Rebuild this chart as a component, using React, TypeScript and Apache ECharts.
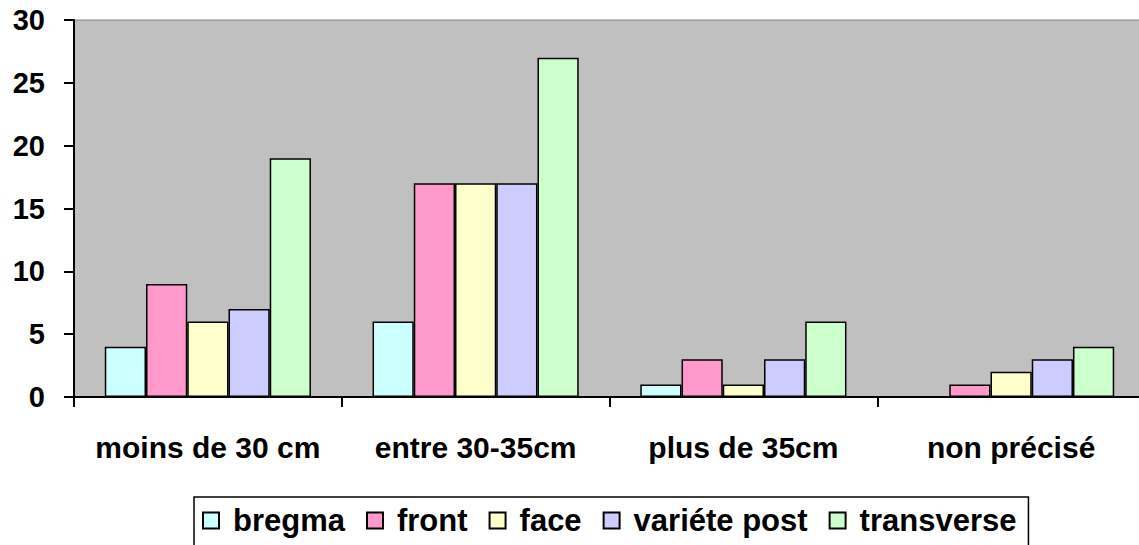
import React, { useEffect, useRef } from "react";
import * as echarts from "echarts";

const categories = ["moins de 30 cm", "entre 30-35cm", "plus de 35cm", "non précisé"];
const seriesNames = ["bregma", "front", "face", "variéte post", "transverse"];
const bregma = [4, 6, 1, 0];
const front = [9, 17, 3, 1];
const face = [6, 17, 1, 2];
const varietePost = [7, 17, 3, 3];
const transverse = [19, 27, 6, 4];
const seriesColors = ["#CCFFFF", "#FF99CC", "#FFFFCC", "#CCCCFF", "#CCFFCC"];

const FONT = 'Arial, "Liberation Sans", sans-serif';

export default function App() {
  const ref = useRef<HTMLDivElement>(null);
  useEffect(() => {
    if (!ref.current) return;
    const chart = echarts.init(ref.current, undefined, { renderer: "svg" });
    const values = [bregma, front, face, varietePost, transverse];
    chart.setOption({
      animation: false,
      textStyle: { fontFamily: FONT },
      grid: {
        left: 74,
        top: 20,
        height: 377,
        width: 1071,
        outerBoundsMode: "none",
        show: true,
        backgroundColor: "#C0C0C0",
        borderColor: "#808080",
        borderWidth: 1,
      },
      legend: {
        left: 194,
        top: 497,
        selectedMode: false,
        icon: "rect",
        itemWidth: 16,
        itemHeight: 16,
        itemGap: 21,
        borderColor: "#000",
        borderWidth: 1.5,
        padding: [8, 12, 30, 8],
        textStyle: {
          fontFamily: FONT,
          fontSize: 31,
          fontWeight: "bold",
          color: "#000",
          padding: [0, 0, 0, 9],
        },
        data: seriesNames,
      },
      xAxis: {
        type: "category",
        data: categories,
        axisLine: { show: true, lineStyle: { color: "#000", width: 2 } },
        axisTick: { show: true, inside: false, alignWithLabel: false, length: 10, lineStyle: { color: "#000", width: 2 } },
        axisLabel: {
          interval: 0,
          margin: 35,
          fontFamily: FONT,
          fontSize: 30,
          fontWeight: "bold",
          color: "#000",
        },
      },
      yAxis: {
        type: "value",
        min: 0,
        max: 30,
        interval: 5,
        splitLine: { show: false },
        axisLine: { show: true, lineStyle: { color: "#000", width: 2 } },
        axisTick: { show: true, inside: false, length: 10, lineStyle: { color: "#000", width: 2 } },
        axisLabel: {
          margin: 29,
          fontFamily: FONT,
          fontSize: 29,
          fontWeight: "bold",
          color: "#000",
        },
      },
      series: seriesNames.map((name, i) => ({
        name,
        type: "bar",
        data: values[i],
        barGap: "0%",
        barCategoryGap: "23%",
        itemStyle: {
          color: seriesColors[i],
          borderColor: "#000",
          borderWidth: 1.5,
        },
      })),
    });
    return () => chart.dispose();
  }, []);
  return (
    <div
      style={{ position: "absolute", left: 0, top: 0, width: 1139, height: 545, overflow: "hidden", background: "#fff" }}
    >
      <div ref={ref} style={{ width: 1146, height: 545 }} />
    </div>
  );
}
